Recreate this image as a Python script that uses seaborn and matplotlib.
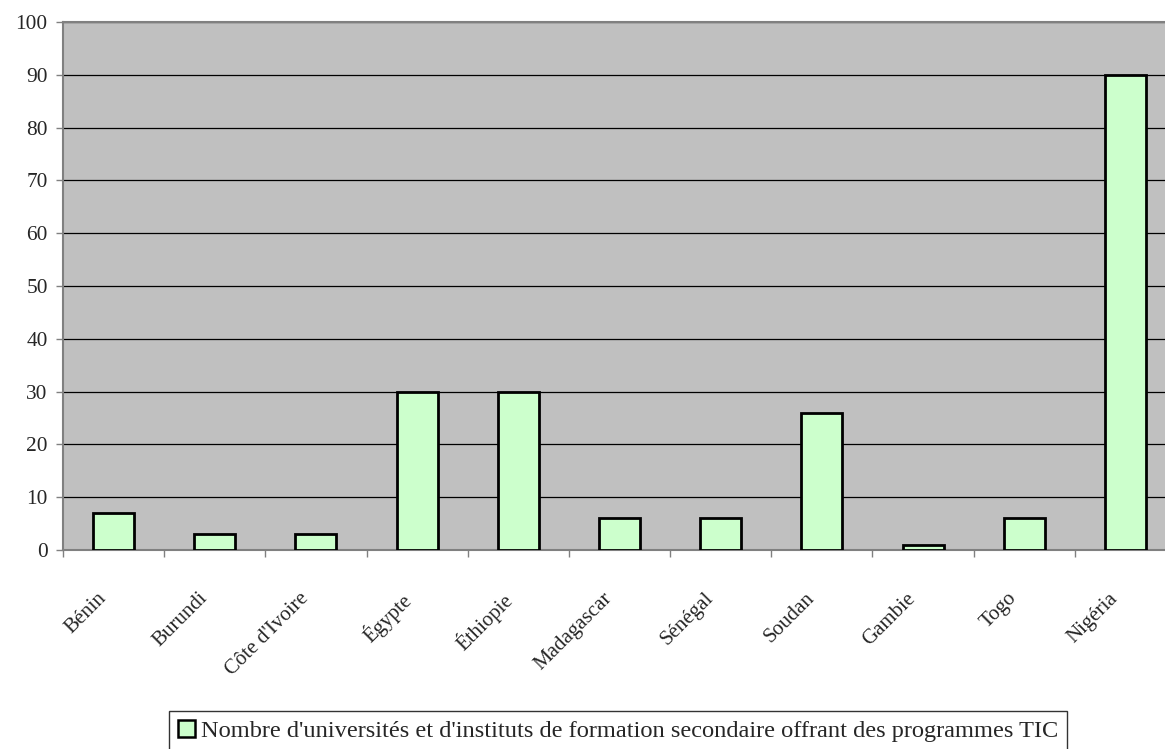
import matplotlib
matplotlib.use("Agg")
import matplotlib.pyplot as plt
import matplotlib.transforms as mtransforms
import seaborn as sns
import pandas as pd
from matplotlib.patches import Patch

countries = ["Bénin", "Burundi", "Côte d'Ivoire", "Égypte", "Éthiopie", "Madagascar",
             "Sénégal", "Soudan", "Gambie", "Togo", "Nigéria"]
values = [7, 3, 3, 30, 30, 6, 6, 26, 1, 6, 90]
series_label = "Nombre d'universités et d'instituts de formation secondaire offrant des programmes TIC"
yticks = list(range(0, 101, 10))

df = pd.DataFrame({"pays": countries, "n": values})

sns.set_style("white")
plt.rcParams['font.family'] = ['Liberation Serif', 'DejaVu Serif']

W, H = 1165, 749
fig = plt.figure(figsize=(W/100, H/100), dpi=100)
left_px, right_px, top_px, bot_px = 63, 1176, 22, 550
ax = fig.add_axes([left_px/W, 1-bot_px/H, (right_px-left_px)/W, (bot_px-top_px)/H])
ax.set_facecolor('#C0C0C0')

sns.barplot(data=df, x="pays", y="n", color='#CCFFCC', edgecolor='black',
            linewidth=2.0, width=0.405, saturation=1, ax=ax, zorder=3)

ax.set_ylim(0, 100)
ax.set_xlim(-0.5, len(countries) - 0.5)
ax.set_yticks(yticks)
ax.yaxis.grid(True, color='black', linewidth=0.9, zorder=1)
ax.set_axisbelow(True)
ax.set_xlabel("")
ax.set_ylabel("")

for s in ['left', 'bottom', 'top']:
    ax.spines[s].set_color('#808080')
    ax.spines[s].set_linewidth(1.5)
ax.spines['right'].set_visible(False)

ax.tick_params(axis='y', which='both', length=5, width=1, color='#808080',
               direction='out', labelsize=15.4, left=True, pad=6)
ax.set_xticks([i for i in range(len(countries))])
ax.set_xticklabels(countries, rotation=45, ha='right', rotation_mode='anchor', fontsize=15)
ax.tick_params(axis='x', which='major', length=0, pad=28)
ax.set_xticks([i - 0.5 for i in range(len(countries) + 1)], minor=True)
ax.tick_params(axis='x', which='minor', length=5, width=1, color='#808080', direction='out', bottom=True)
offset = mtransforms.ScaledTranslation(-0.17, 0, fig.dpi_scale_trans)
for lab in ax.get_xticklabels():
    lab.set_transform(lab.get_transform() + offset)

handle = Patch(facecolor='#CCFFCC', edgecolor='black', linewidth=1.8)
leg = fig.legend([handle], [series_label], loc='upper left', bbox_to_anchor=(169/W, 1-711/H),
                 frameon=True, fancybox=False, fontsize=17.6, handlelength=0.7, handleheight=0.7,
                 handletextpad=0.25, borderpad=0.35, borderaxespad=0)
leg.get_frame().set_edgecolor('black')
leg.get_frame().set_linewidth(1.0)

fig.savefig("out.png", dpi=100)
